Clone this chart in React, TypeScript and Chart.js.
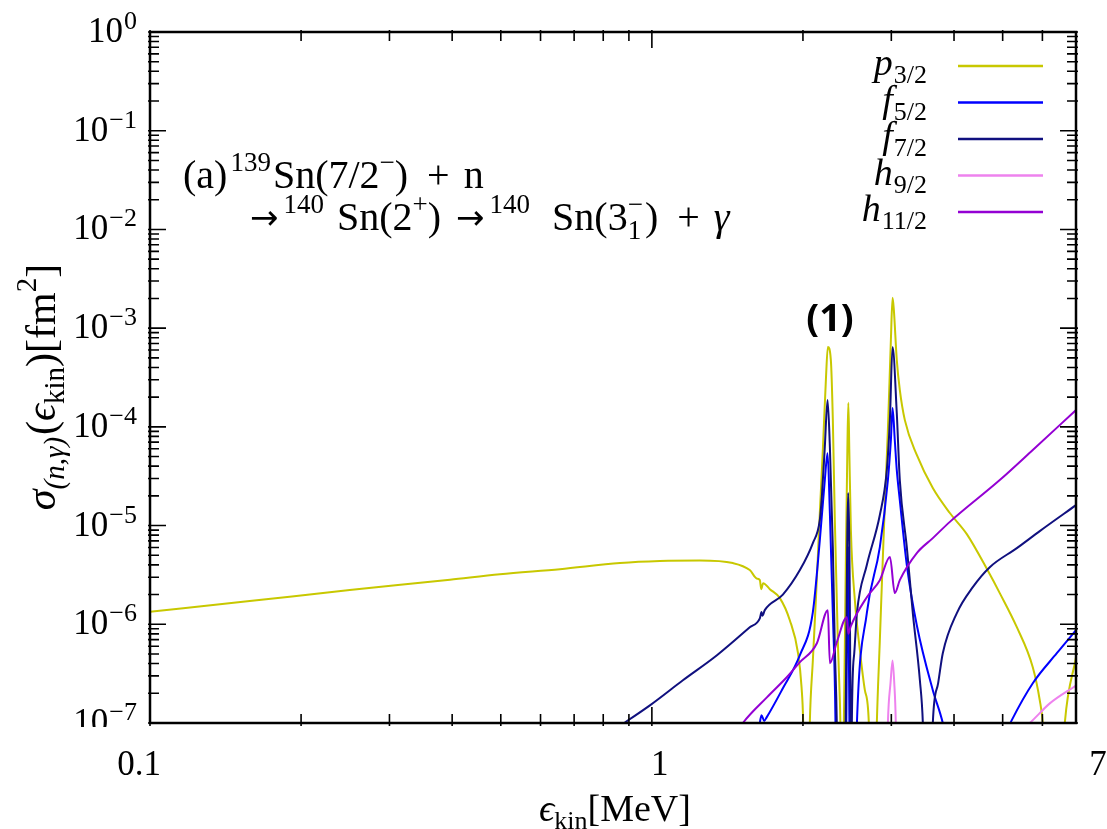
import React, { useEffect, useRef } from 'react';
import { Chart, registerables } from 'chart.js';
Chart.register(...registerables);

const SERIF = "'Liberation Serif', 'DejaVu Serif', serif";

// ---- data (energy in MeV, cross section in fm^2); null = break in the curve ----
const p32E = [0.1, 0.158, 0.25, 0.396, 0.498, 0.656, 0.864, 1.037, 1.246, 1.45, 1.567, 1.619, 1.641, 1.652, 1.666, 1.718, 1.799, 1.883, 1.956, 1.987, 2.002, 2.03, 2.064, 2.093, 2.122, 2.161, 2.191, 2.222, 2.242, 2.273, 2.294, 2.315, 2.347, 2.369, 2.39, 2.413, 2.435, 2.452, 2.463, 2.474, 2.492, 2.538, 2.597, 2.657, 2.706, 2.75, 2.807, 2.846, 2.899, 2.953, 2.994, 3.017, 3.035, 3.076, 3.119, 3.192, 3.372, 3.629, 3.924, 4.242, 4.67, 4.934, 5.336, 5.741, 5.928, 6.01, 6.3, 6.649, 7.0];
const p32S = [1.34e-6, 1.72e-6, 2.22e-6, 2.83e-6, 3.22e-6, 3.62e-6, 4.17e-6, 4.37e-6, 4.42e-6, 4.17e-6, 3.54e-6, 2.9e-6, 2.8e-6, 2.27e-6, 2.61e-6, 2.27e-6, 1.84e-6, 1.1e-6, 5.06e-7, 2.32e-7, 1.02e-7, 1e-9, 1e-7, 4.32e-7, 1.75e-6, 1.34e-5, 5.83e-5, 2.99e-4, 6.45e-4, 4.77e-4, 1.17e-4, 1.14e-5, 6.9e-7, 1.7e-7, 3e-8, 1e-7, 4.47e-6, 5.83e-5, 1.75e-4, 5.83e-5, 9.0e-6, 1.75e-6, 5.46e-7, 2.15e-7, 1e-7, 1e-9, 1e-7, 6.9e-7, 9.0e-6, 9.3e-5, 7.6e-4, 2.03e-3, 1.53e-3, 4.77e-4, 2.37e-4, 1.17e-4, 5.19e-5, 2.4e-5, 1.34e-5, 8.2e-6, 3.5e-6, 2.07e-6, 9.34e-7, 3.67e-7, 1.7e-7, 1.0e-7, 1e-9, 1e-7, 4.64e-7];

const f52E = [1.62, 1.641, 1.654, 1.674, 1.693, 1.824, 1.972, 2.093, 2.161, 2.211, 2.239, 2.263, 2.294, 2.322, 2.34, 2.4, 2.44, 2.458, 2.475, 2.51, 2.562, 2.681, 2.846, 2.953, 2.994, 3.017, 3.048, 3.076, 3.119, 3.221, 3.372, 3.629, 3.799, 3.9, 4.5, 5.05, 5.214, 5.741, 6.41, 7.0];
const f52S = [5e-8, 1.0e-7, 1.2e-7, 1.05e-7, 1.14e-7, 2.25e-7, 4.86e-7, 1.33e-6, 7.13e-6, 2.89e-5, 5.4e-5, 1.34e-5, 1.3e-6, 1e-7, 1e-9, 1e-9, 1e-7, 6e-6, 1e-7, 1e-9, 1e-7, 1.3e-6, 6.05e-6, 2.89e-5, 7.36e-5, 1.55e-4, 7.36e-5, 3.66e-5, 1.81e-5, 3.98e-6, 9.79e-7, 2.15e-7, 1e-7, 5e-8, null, 7.5e-8, 1.07e-7, 2.53e-7, 5.09e-7, 8.71e-7];

const f72E = [0.8, 0.88, 0.991, 1.153, 1.348, 1.567, 1.641, 1.654, 1.66, 1.68, 1.824, 1.972, 2.093, 2.161, 2.181, 2.211, 2.239, 2.263, 2.294, 2.315, 2.336, 2.36, 2.4, 2.432, 2.461, 2.488, 2.495, 2.503, 2.53, 2.562, 2.681, 2.846, 2.939, 2.98, 3.017, 3.076, 3.119, 3.221, 3.311, 3.42, 3.467, 3.55, 3.629, 3.719, 3.799, 4.052, 4.36, 4.713, 5.336, 5.928, 7.0];
const f72S = [7.3e-8, 1e-7, 1.51e-7, 2.71e-7, 4.86e-7, 9.34e-7, 1.15e-6, 1.33e-6, 1.22e-6, 1.4e-6, 2.0e-6, 3.54e-6, 6.65e-6, 1.14e-5, 1.95e-5, 6.25e-5, 1.87e-4, 6.25e-5, 6.05e-6, 5.86e-7, 1e-7, 1e-9, 1e-9, 1e-7, 2.14e-5, 1e-7, 1e-9, 1e-7, 5e-7, 1.3e-6, 3.98e-6, 1.28e-5, 3.66e-5, 1.17e-4, 6.45e-4, 1.38e-4, 2.89e-5, 6.05e-6, 1.3e-6, 2.71e-7, 1e-7, 1e-9, 1e-7, 2.53e-7, 5.09e-7, 1.3e-6, 2.38e-6, 3.79e-6, 5.91e-6, 8.79e-6, 1.61e-5];

const h92E = [2.9, 2.953, 2.99, 3.017, 3.04, 3.062, 3.1, 4.0, 5.167, 5.662, 6.207, 7.0];
const h92S = [1e-9, 1e-7, 2.6e-7, 4.3e-7, 2.6e-7, 1e-7, 1e-9, null, 7e-8, 1e-7, 1.58e-7, 2.4e-7];

const h112E = [1.45, 1.518, 1.695, 1.857, 1.972, 2.132, 2.242, 2.263, 2.336, 2.446, 2.463, 2.49, 2.681, 2.846, 2.981, 3.048, 3.119, 3.372, 3.629, 3.924, 4.934, 5.741, 7.0];
const h112S = [7e-8, 1e-7, 1.82e-7, 2.91e-7, 4.13e-7, 6.43e-7, 1.39e-6, 4.03e-7, 6.58e-7, 1.18e-6, 8.0e-7, 9.5e-7, 1.88e-6, 2.8e-6, 4.8e-6, 2.07e-6, 2.8e-6, 5.26e-6, 7.46e-6, 1.09e-5, 2.89e-5, 5.83e-5, 1.48e-4];

const legendMain = ['p', 'f', 'f', 'h', 'h'];
const legendSub = ['3/2', '5/2', '7/2', '9/2', '11/2'];
const seriesColors = ['#c8c800', '#0000ff', '#10107f', '#ee82ee', '#9400d3'];

const xTickValues = [0.1, 1, 7];
const xTickLabels = ['0.1', '1', '7'];
const xTickLabelShift = [-11, 8, 22];
const xMajor = [0.1, 1];
const xMinor = [0.2, 0.3, 0.4, 0.5, 0.6, 0.7, 0.8, 0.9, 2, 3, 4, 5, 6];
const yExponents = [0, -1, -2, -3, -4, -5, -6, -7];

type Part = { t: string; size: number; dy?: number; italic?: boolean; gap?: number; stackSub?: string; family?: string };

function setFont(ctx: CanvasRenderingContext2D, p: Part) {
  ctx.font = `${p.italic ? 'italic ' : ''}${p.size}px ${p.family || SERIF}`;
}

function partWidth(ctx: CanvasRenderingContext2D, p: Part) {
  setFont(ctx, p);
  let w = ctx.measureText(p.t).width;
  if (p.stackSub) w = Math.max(w, ctx.measureText(p.stackSub).width);
  return w + (p.gap || 0);
}

function drawRich(ctx: CanvasRenderingContext2D, x: number, y: number, parts: Part[], align: 'left' | 'center' | 'right') {
  let total = 0;
  for (const p of parts) total += partWidth(ctx, p);
  let cx = align === 'left' ? x : align === 'center' ? x - total / 2 : x - total;
  ctx.textAlign = 'left';
  ctx.textBaseline = 'alphabetic';
  for (const p of parts) {
    setFont(ctx, p);
    ctx.fillText(p.t, cx, y + (p.dy || 0));
    if (p.stackSub) ctx.fillText(p.stackSub, cx, y + 9);
    cx += partWidth(ctx, p);
  }
}

function mk(E: number[], S: (number | null)[]) {
  return E.map((e, i) => ({ x: e, y: S[i] }));
}

const ARROW = "'DejaVu Sans', 'Liberation Serif', sans-serif";

const decorPlugin = {
  id: 'decor',
  afterDraw(chart: any) {
    const { ctx, chartArea: ca, scales } = chart;
    const xs = scales.x;
    const ys = scales.y;
    ctx.save();
    ctx.fillStyle = '#000';
    ctx.strokeStyle = '#000';

    // ticks
    ctx.lineWidth = 1.6;
    const vt = (v: number, len: number) => {
      const px = xs.getPixelForValue(v);
      ctx.beginPath();
      ctx.moveTo(px, ca.bottom + 3);
      ctx.lineTo(px, ca.bottom - len);
      ctx.moveTo(px, ca.top - 2);
      ctx.lineTo(px, ca.top + len);
      ctx.stroke();
    };
    xMajor.forEach((v) => vt(v, 16));
    xMinor.forEach((v) => vt(v, 9));
    const ht = (v: number, len: number) => {
      const py = ys.getPixelForValue(v);
      ctx.beginPath();
      ctx.moveTo(ca.left - 2, py);
      ctx.lineTo(ca.left + len, py);
      ctx.moveTo(ca.right + 2, py);
      ctx.lineTo(ca.right - len, py);
      ctx.stroke();
    };
    yExponents.forEach((e) => {
      ht(Math.pow(10, e), 16);
      if (e > -7) {
        for (let m = 2; m <= 9; m++) ht(m * Math.pow(10, e - 1), 9);
      }
    });

    // frame
    ctx.lineWidth = 2.5;
    ctx.strokeRect(ca.left, ca.top, ca.right - ca.left, ca.bottom - ca.top);

    // x tick labels
    ctx.font = `35px ${SERIF}`;
    ctx.textAlign = 'center';
    ctx.textBaseline = 'alphabetic';
    xTickValues.forEach((v, i) => {
      ctx.fillText(xTickLabels[i], xs.getPixelForValue(v) + xTickLabelShift[i], 775);
    });

    // y tick labels
    yExponents.forEach((e) => {
      const py = ys.getPixelForValue(Math.pow(10, e));
      ctx.save();
      if (e === -7) {
        ctx.beginPath();
        ctx.rect(0, 0, ca.left, ca.bottom + 4);
        ctx.clip();
      }
      const expStr = e === 0 ? '0' : '\u2212' + String(-e);
      ctx.font = `26px ${SERIF}`;
      ctx.textAlign = 'right';
      const ew = ctx.measureText(expStr).width;
      ctx.fillText(expStr, ca.left - 13, py - 3);
      ctx.font = `35px ${SERIF}`;
      ctx.fillText('10', ca.left - 13 - ew - 1, py + 10);
      ctx.restore();
    });

    // axis titles
    drawRich(ctx, (ca.left + ca.right) / 2 + 2, 821, [
      { t: '\u03F5', size: 38, italic: true },
      { t: 'kin', size: 26, dy: 8 },
      { t: '[MeV]', size: 38 },
    ], 'center');

    ctx.save();
    ctx.translate(55, 387);
    ctx.rotate(-Math.PI / 2);
    drawRich(ctx, 0, 0, [
      { t: '\u03C3', size: 42, italic: true },
      { t: '(n,\u03B3)', size: 29, dy: 9, italic: true, gap: 2 },
      { t: '(', size: 42 },
      { t: '\u03F5', size: 42, italic: true },
      { t: 'kin', size: 29, dy: 9 },
      { t: ')[fm', size: 42 },
      { t: '2', size: 29, dy: -19 },
      { t: ']', size: 42 },
    ], 'center');
    ctx.restore();

    // reaction annotation
    drawRich(ctx, 183, 188, [
      { t: '(a)', size: 40, gap: 3 },
      { t: '139', size: 27, dy: -17, gap: 2 },
      { t: 'Sn(7/2', size: 40 },
      { t: '\u2212', size: 27, dy: -17 },
      { t: ')', size: 40, gap: 19 },
      { t: '+', size: 40, gap: 14 },
      { t: 'n', size: 40 },
    ], 'left');
    drawRich(ctx, 250, 230, [
      { t: '\u2192', size: 34, gap: 5, family: ARROW, dy: -1 },
      { t: '140', size: 27, dy: -17, gap: 13 },
      { t: 'Sn(2', size: 40 },
      { t: '+', size: 27, dy: -17 },
      { t: ')', size: 40, gap: 15 },
      { t: '\u2192', size: 34, gap: 5, family: ARROW, dy: -1 },
      { t: '140', size: 27, dy: -17, gap: 22 },
      { t: 'Sn(3', size: 40 },
      { t: '\u2212', size: 27, dy: -17, stackSub: '1', gap: 2 },
      { t: ')', size: 40, gap: 19 },
      { t: '+', size: 40, gap: 14 },
      { t: '\u03B3', size: 40, italic: true },
    ], 'left');

    // (1) label
    ctx.font = "bold 38px 'Open Sans', 'Liberation Sans', sans-serif";
    ctx.textAlign = 'center';
    ctx.fillText('(1)', 830, 331);

    // legend
    const rowY0 = 66;
    const rowDy = 36.5;
    chart.data.datasets.forEach((ds: any, i: number) => {
      const ly = rowY0 + i * rowDy;
      ctx.strokeStyle = ds.borderColor;
      ctx.lineWidth = 2.5;
      ctx.beginPath();
      ctx.moveTo(958, ly);
      ctx.lineTo(1043, ly);
      ctx.stroke();
      ctx.fillStyle = '#000';
      ctx.textAlign = 'right';
      ctx.font = `26px ${SERIF}`;
      const sw = ctx.measureText(legendSub[i]).width;
      ctx.fillText(legendSub[i], 927, ly + 17);
      ctx.font = `italic 38px ${SERIF}`;
      ctx.fillText(legendMain[i], 927 - sw - 1, ly + 9);
    });

    ctx.restore();
  },
};

export default function App() {
  const ref = useRef<HTMLCanvasElement>(null);
  useEffect(() => {
    document.body.style.margin = '0';
    const names = legendMain.map((m, i) => `${m}${legendSub[i]}`);
    const series = [mk(p32E, p32S), mk(f52E, f52S), mk(f72E, f72S), mk(h92E, h92S), mk(h112E, h112S)];
    const chart = new Chart(ref.current as HTMLCanvasElement, {
      type: 'line',
      data: {
        datasets: series.map((d, i) => ({
          label: names[i],
          data: d,
          borderColor: seriesColors[i],
          backgroundColor: seriesColors[i],
          borderWidth: 2,
          pointRadius: 0,
          cubicInterpolationMode: 'monotone',
          spanGaps: false,
          fill: false,
          order: 5 - i,
        })),
      },
      options: {
        responsive: false,
        animation: false,
        layout: { padding: { left: 0, right: 31, top: 32, bottom: 0 } },
        plugins: { legend: { display: false }, tooltip: { enabled: false } },
        scales: {
          x: {
            type: 'logarithmic',
            min: 0.1,
            max: 7,
            grid: { display: false },
            border: { display: false },
            ticks: { display: false },
            afterFit: (s: any) => { s.height = 106; },
          },
          y: {
            type: 'logarithmic',
            min: 1e-7,
            max: 1,
            grid: { display: false },
            border: { display: false },
            ticks: { display: false },
            afterFit: (s: any) => { s.width = 150; },
          },
        },
      },
      plugins: [decorPlugin],
    } as any);
    return () => chart.destroy();
  }, []);
  return (
    <div style={{ width: 1107, height: 829, background: '#fff', overflow: 'hidden' }}>
      <canvas ref={ref} width={1107} height={829} style={{ display: 'block' }} />
    </div>
  );
}
